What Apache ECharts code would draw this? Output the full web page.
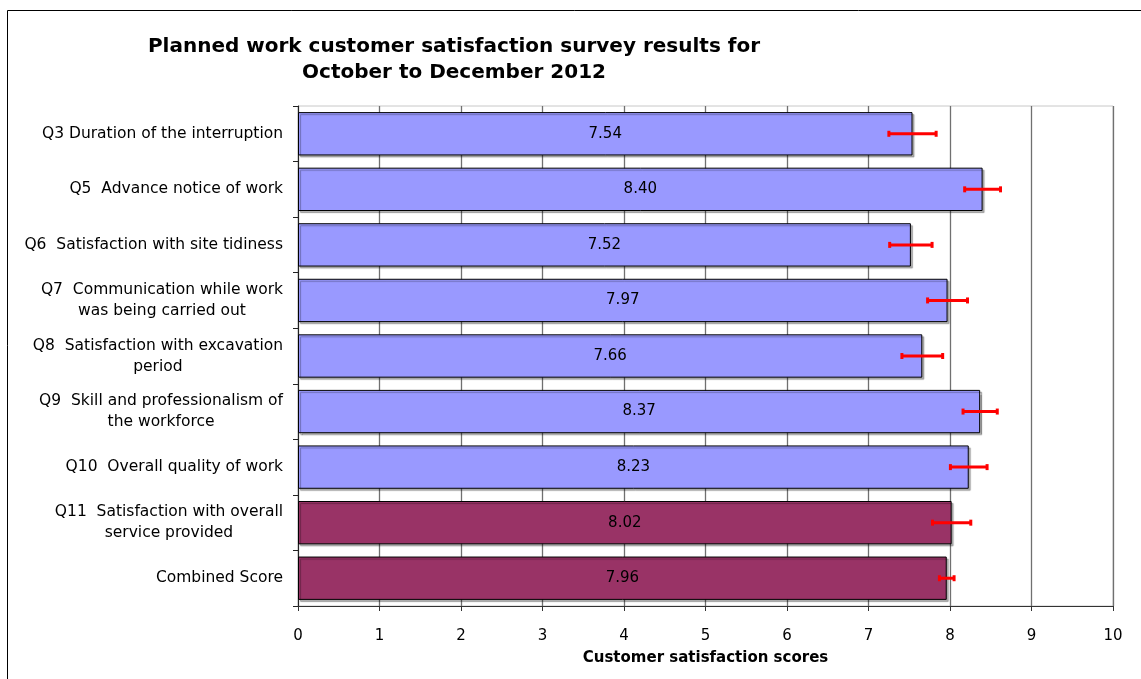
<!DOCTYPE html>
<html>
<head>
<meta charset="utf-8">
<script src="https://cdn.jsdelivr.net/npm/echarts@6/dist/echarts.min.js"></script>
<style>
html,body{margin:0;padding:0;background:#fff;}
#chart{width:1141px;height:679px;}
</style>
</head>
<body>
<div id="chart"></div>
<script>
var categories = [
  'Q3 Duration of the interruption',
  'Q5  Advance notice of work',
  'Q6  Satisfaction with site tidiness',
  'Q7  Communication while work\nwas being carried out',
  'Q8  Satisfaction with excavation\nperiod',
  'Q9  Skill and professionalism of\nthe workforce',
  'Q10  Overall quality of work',
  'Q11  Satisfaction with overall\nservice provided',
  'Combined Score'
];
var scores = [7.54, 8.40, 7.52, 7.97, 7.66, 8.37, 8.23, 8.02, 7.96];
var errorMargins = [0.29, 0.22, 0.26, 0.245, 0.25, 0.21, 0.225, 0.235, 0.09];
var highlighted = [false, false, false, false, false, false, false, true, true];
var xTicks = [0, 1, 2, 3, 4, 5, 6, 7, 8, 9, 10];

var FONT = 'DejaVu Sans';
var barData = scores.map(function (v, i) {
  return {
    value: v,
    itemStyle: { color: highlighted[i] ? '#993366' : '#9999FF' }
  };
});
var errData = scores.map(function (v, i) { return [v, i, errorMargins[i]]; });

var chart = echarts.init(document.getElementById('chart'));
chart.setOption({
  animation: false,
  backgroundColor: '#fff',
  title: {
    text: 'Planned work customer satisfaction survey results for\nOctober to December 2012',
    left: 449,
    top: 29,
    textAlign: 'center',
    textStyle: { fontFamily: FONT, fontWeight: 'bold', fontSize: 20, lineHeight: 26, color: '#000' }
  },
  graphic: [{
    type: 'rect', left: 5, top: 8, z: -10, silent: true,
    shape: { width: 1200, height: 700 },
    style: { fill: 'none', stroke: '#000', lineWidth: 1 }
  }],
  grid: { left: 298, right: 28, top: 106, bottom: 73, show: true, borderColor: '#c8c8c8', borderWidth: 1, containLabel: false },
  xAxis: {
    type: 'value', min: 0, max: 10, interval: 1,
    name: 'Customer satisfaction scores', nameLocation: 'middle', nameGap: 45,
    nameTextStyle: { fontFamily: FONT, fontWeight: 'bold', fontSize: 15, color: '#000' },
    axisLine: { show: true, lineStyle: { color: '#333', width: 1 } },
    axisTick: { show: true, length: 5, lineStyle: { color: '#333' } },
    axisLabel: { fontFamily: FONT, fontSize: 15, color: '#000', margin: 23,
      formatter: function (v) { return xTicks.indexOf(v) >= 0 ? String(v) : ''; } },
    splitLine: { show: true, lineStyle: { color: '#707070', width: 1.3 } }
  },
  yAxis: {
    type: 'category', data: categories, inverse: true,
    axisLine: { show: true, lineStyle: { color: '#222', width: 1 } },
    axisTick: { show: true, length: 5, lineStyle: { color: '#222' } },
    axisLabel: {
      fontFamily: FONT, fontSize: 15.5, color: '#000', margin: 15,
      formatter: function (v) {
        return v.split('\n').map(function (l) { return '{c|' + l + '}'; }).join('\n');
      },
      rich: { c: { align: 'center', fontFamily: FONT, fontSize: 15.5, lineHeight: 21, color: '#000' } }
    },
    splitLine: { show: false }
  },
  series: [{
    type: 'bar',
    data: barData,
    barCategoryGap: '22%',
    itemStyle: { borderColor: '#000', borderWidth: 1, shadowColor: 'rgba(0,0,0,0.3)', shadowOffsetX: 2, shadowOffsetY: 2, shadowBlur: 1 },
    label: { show: true, position: 'inside', fontFamily: FONT, fontSize: 15, color: '#000',
      formatter: function (p) { return p.value.toFixed(2); } },
    z: 2
  }, {
    type: 'custom',
    data: errData,
    z: 5,
    renderItem: function (params, api) {
      var v = api.value(0), idx = api.value(1), m = api.value(2);
      var p1 = api.coord([v - m, idx]);
      var p2 = api.coord([v + m, idx]);
      var h = 3;
      var st = { stroke: '#FF0000', lineWidth: 3 };
      return {
        type: 'group',
        children: [
          { type: 'line', shape: { x1: p1[0], y1: p1[1], x2: p2[0], y2: p2[1] }, style: st },
          { type: 'line', shape: { x1: p1[0], y1: p1[1] - h, x2: p1[0], y2: p1[1] + h }, style: st },
          { type: 'line', shape: { x1: p2[0], y1: p2[1] - h, x2: p2[0], y2: p2[1] + h }, style: st }
        ]
      };
    }
  }]
});
</script>
</body>
</html>
